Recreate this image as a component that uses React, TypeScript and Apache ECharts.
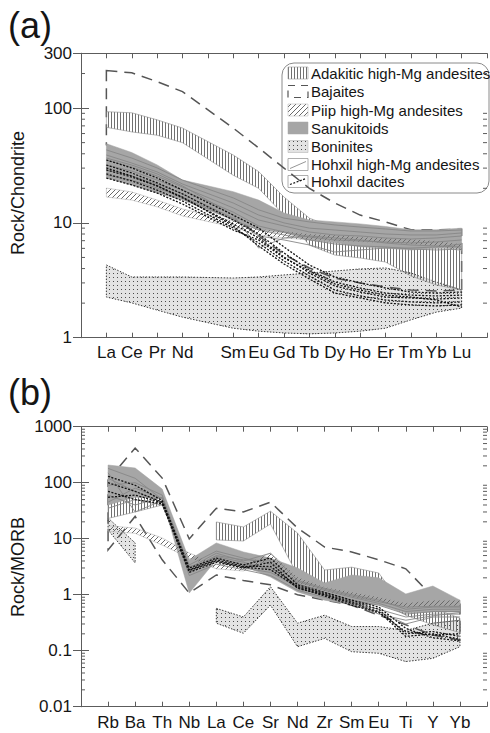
import React, { useEffect, useRef } from 'react';
import * as echarts from 'echarts';

// ---------- (a) chondrite-normalised REE ----------
const REE_LABELS = ['La', 'Ce', 'Pr', 'Nd', 'Sm', 'Eu', 'Gd', 'Tb', 'Dy', 'Ho', 'Er', 'Tm', 'Yb', 'Lu'];
const REE_POS = [1, 2, 3, 4, 6, 7, 8, 9, 10, 11, 12, 13, 14, 15];
const A_Y_MIN = 1;
const A_Y_MAX = 300;

const A_BAJ_UP = [212, 203, 170, 139, 67, 45, 30, 20, 14.9, 11.7, 10.2, 8.7, 8.7, 8.8];
const A_BAJ_LO = [48, 38, 30, 22, 11.7, 7.7, 5.3, 4.05, 3.3, 3.0, 2.77, 2.6, 2.55, 2.6];
const A_ADK_UP = [93, 91, 79, 67, 39, 28, 16.8, 11.0, 9.0, 8.2, 7.4, 7.1, 6.8, 6.7];
const A_ADK_LO = [68, 62, 58, 50, 26, 20, 11.7, 6.4, 5.25, 4.95, 4.56, 3.45, 2.88, 2.6];
const A_SAN_UP = [49, 41, 32, 23.6, 18.7, 15.8, 12.2, 10.6, 10.2, 9.8, 9.3, 8.7, 8.7, 9.0];
const A_SAN_LO = [24.6, 21.4, 18.2, 15.8, 10.6, 8.7, 8.2, 7.1, 6.7, 6.2, 6.0, 5.8, 6.0, 6.0];
const A_PIIP_UP = [20.1, 18.6, 15.8, 13.2, 10.4, 8.85, 8.5, 8.0, 7.85, 7.54, 7.39, 7.24, 6.96, 6.55];
const A_PIIP_LO = [16.8, 15.8, 13.8, 11.5, 9.2, 7.85, 7.39, 7.1, 6.96, 6.82, 6.68, 6.55, 6.29, 5.69];
const A_BON_UP = [4.3, 3.38, 3.38, 3.38, 3.31, 3.38, 3.52, 3.66, 3.81, 3.97, 4.05, 3.66, 3.06, 2.6];
const A_BON_LO = [2.26, 2.01, 1.74, 1.51, 1.21, 1.14, 1.1, 1.08, 1.1, 1.14, 1.21, 1.43, 1.67, 1.81];

const A_HMA = [
  [43.2, 36.7, 30.1, 23.6, 16.5, 13.0, 11.0, 10.2, 9.6, 9.2, 8.85, 8.5, 8.5, 8.67],
  [39.0, 33.2, 27.8, 21.8, 14.9, 11.7, 10.0, 9.0, 8.67, 8.33, 8.0, 7.85, 7.85, 8.17],
  [35.3, 30.7, 25.6, 20.5, 13.5, 10.6, 9.4, 8.33, 7.85, 7.69, 7.39, 7.24, 7.39, 7.69],
  [31.9, 28.3, 23.6, 19.3, 12.4, 9.4, 8.33, 7.54, 7.1, 6.96, 6.82, 6.68, 6.82, 7.1],
  [28.9, 25.6, 21.8, 17.9, 11.0, 7.69, 7.1, 6.42, 5.58, 5.81, 6.04, 6.04, 6.17, 6.55],
  [36.7, 31.9, 26.7, 21.0, 11.7, 6.04, 7.39, 7.69, 7.39, 7.1, 6.68, 6.42, 6.29, 6.17],
  [26.1, 23.6, 20.1, 16.8, 10.6, 8.67, 7.85, 7.1, 6.55, 6.29, 6.17, 5.92, 5.81, 5.92],
];
const A_DAC = [
  [35.3, 30.1, 24.6, 19.3, 11.7, 9.03, 6.17, 4.3, 3.38, 3.0, 2.71, 2.5, 2.45, 2.5],
  [31.9, 27.2, 22.3, 17.9, 10.6, 8.0, 5.47, 3.89, 3.06, 2.71, 2.45, 2.35, 2.31, 2.35],
  [28.9, 25.1, 21.0, 16.5, 9.78, 7.39, 5.05, 3.66, 2.82, 2.5, 2.26, 2.22, 2.17, 2.22],
  [26.7, 23.2, 19.3, 15.5, 9.03, 6.68, 4.66, 3.45, 2.6, 2.31, 2.13, 2.05, 2.01, 2.05],
  [30.1, 25.6, 21.0, 16.8, 9.4, 6.29, 4.39, 3.25, 2.45, 2.22, 2.01, 1.93, 1.89, 1.93],
  [24.6, 21.4, 18.2, 14.6, 8.67, 7.1, 4.95, 3.81, 2.94, 2.6, 2.35, 2.26, 2.13, 1.85],
];

// ---------- (b) MORB-normalised spider diagram ----------
const MORB_LABELS = ['Rb', 'Ba', 'Th', 'Nb', 'La', 'Ce', 'Sr', 'Nd', 'Zr', 'Sm', 'Eu', 'Ti', 'Y', 'Yb'];
const MORB_POS = [1, 2, 3, 4, 5, 6, 7, 8, 9, 10, 11, 12, 13, 14];
const B_Y_MIN = 0.01;
const B_Y_MAX = 1000;

const B_BAJ_UP = [112, 416, 121, 9.9, 35, 30, 45, 15.5, 7.1, 5.8, 4.2, 2.9, 0.91, 0.71];
const B_BAJ_LO = [6.3, 25, 4.2, 1.07, 2.25, 1.8, 1.5, 1.0, 0.8, 0.65, 0.43, 0.29, 0.19, 0.155];
const B_ADK1_POS = [1, 2, 3];
const B_ADK1_UP = [80, 74, 68];
const B_ADK1_LO = [23, 30, 40];
const B_ADK2_POS = [5, 6, 7, 8, 9, 10, 11, 12, 13, 14];
const B_ADK2_UP = [19.9, 16.2, 31, 12.6, 2.76, 3.1, 2.44, 0.53, 0.58, 0.38];
const B_ADK2_LO = [9.5, 9.1, 18.3, 2.25, 1.07, 0.87, 0.8, 0.43, 0.29, 0.21];
const B_SAN_UP = [207, 183, 77, 4.2, 8.4, 5.8, 4.5, 3.0, 1.62, 2.25, 2.0, 1.03, 1.43, 0.8];
const B_SAN_LO = [40, 55, 53, 1.07, 4.2, 3.25, 2.07, 1.12, 0.8, 0.66, 0.66, 0.47, 0.49, 0.49];
const B_PIIP_UP = [17, 15.5, 10.3, 5.55, 3.53, 3.39, 5.55, 2.07, 1.37, 1.12, 0.91, 0.71, 0.8, 0.8];
const B_PIIP_LO = [13.5, 12.5, 7.7, 4.5, 2.9, 2.65, 4.16, 1.62, 1.12, 0.91, 0.74, 0.58, 0.63, 0.63];
const B_BON1_POS = [1, 2];
const B_BON1_UP = [23.4, 8.4];
const B_BON1_LO = [14.3, 3.7];
const B_BON2_POS = [5, 6, 7, 8, 9, 10, 11, 12, 13, 14];
const B_BON2_UP = [0.57, 0.4, 1.39, 0.31, 0.43, 0.27, 0.27, 0.23, 0.31, 0.35];
const B_BON2_LO = [0.31, 0.205, 0.65, 0.118, 0.166, 0.096, 0.09, 0.064, 0.073, 0.118];

const B_HMA = [
  [180, 120, 50, 3.0, 5.5, 4.0, 5.5, 1.8, 1.3, 1.0, 0.8, 0.55, 0.6, 0.6],
  [120, 70, 45, 2.5, 4.5, 3.5, 3.0, 1.5, 1.2, 0.9, 0.7, 0.5, 0.55, 0.55],
  [60, 40, 55, 3.2, 4.0, 3.0, 2.5, 1.4, 1.1, 0.8, 0.65, 0.45, 0.5, 0.5],
  [35, 50, 40, 2.8, 5.0, 4.2, 4.0, 1.6, 1.0, 0.7, 0.55, 0.4, 0.45, 0.45],
  [90, 100, 60, 2.2, 3.5, 2.8, 2.2, 1.2, 0.9, 0.65, 0.5, 0.3, 0.4, 0.4],
  [150, 30, 48, 3.4, 6.0, 4.5, 3.5, 1.7, 1.25, 0.95, 0.75, 0.6, 0.62, 0.62],
  [45, 80, 52, 2.6, 4.8, 3.8, 2.8, 1.3, 1.0, 0.75, 0.45, 0.35, 0.42, 0.48],
];
const B_DAC = [
  [100, 70, 45, 2.8, 4.2, 3.2, 3.2, 1.4, 1.05, 0.75, 0.55, 0.2, 0.22, 0.18],
  [70, 50, 42, 2.5, 3.8, 3.0, 3.8, 1.3, 1.0, 0.7, 0.5, 0.18, 0.2, 0.16],
  [130, 90, 48, 3.0, 4.5, 3.4, 4.5, 1.5, 1.1, 0.8, 0.6, 0.25, 0.17, 0.15],
  [55, 60, 44, 2.7, 4.0, 3.1, 2.8, 1.35, 0.95, 0.65, 0.48, 0.22, 0.19, 0.2],
];

const LEGEND_NAMES = [
  'Adakitic high-Mg andesites',
  'Bajaites',
  'Piip high-Mg andesites',
  'Sanukitoids',
  'Boninites',
  'Hohxil high-Mg andesites',
  'Hohxil dacites',
];

const FONT = '"Liberation Sans", Arial, Helvetica, sans-serif';
const AXIS_COLOR = '#5c5c5c';
const TEXT_COLOR = '#151515';

function makePattern(w: number, h: number, draw: (ctx: CanvasRenderingContext2D) => void) {
  const c = document.createElement('canvas');
  c.width = w;
  c.height = h;
  const ctx = c.getContext('2d') as CanvasRenderingContext2D;
  draw(ctx);
  return { image: c, repeat: 'repeat', imageWidth: w, imageHeight: h };
}

function fieldSeries(xs: number[], up: number[], lo: number[], axis: number, style: any) {
  const rows = xs.map((x, i) => [x, up[i], lo[i]]);
  return {
    type: 'custom',
    xAxisIndex: axis,
    yAxisIndex: axis,
    silent: true,
    data: rows,
    renderItem: (params: any, api: any) => {
      if (params.dataIndex !== 0) return null;
      const top = rows.map((r) => api.coord([r[0], r[1]]));
      const bot = rows.map((r) => api.coord([r[0], r[2]])).reverse();
      return { type: 'polygon', shape: { points: top.concat(bot) }, style };
    },
  };
}

function lineSeries(xs: number[], vals: number[], axis: number, lineStyle: any) {
  return {
    type: 'line',
    xAxisIndex: axis,
    yAxisIndex: axis,
    silent: true,
    symbol: 'none',
    data: xs.map((x, i) => [x, vals[i]]),
    lineStyle,
  };
}

function minorTickSeries(vals: number[], axis: number, xmax: number) {
  return {
    type: 'custom',
    xAxisIndex: axis,
    yAxisIndex: axis,
    silent: true,
    clip: false,
    z: 10,
    data: vals.map((v) => [0, v]),
    renderItem: (_p: any, api: any) => {
      const v = api.value(1);
      const a = api.coord([0, v]);
      const b = api.coord([xmax, v]);
      const st = { stroke: AXIS_COLOR, lineWidth: 1 };
      return {
        type: 'group',
        children: [
          { type: 'line', shape: { x1: a[0], y1: a[1], x2: a[0] + 4, y2: a[1] }, style: st },
          { type: 'line', shape: { x1: b[0] - 4, y1: b[1], x2: b[0], y2: b[1] }, style: st },
        ],
      };
    },
  };
}

function xAxisDef(grid: number, position: string, max: number, labels: string[] | null, pos: number[], margin: number) {
  const map: Record<number, string> = {};
  if (labels) pos.forEach((p, i) => (map[p] = labels[i]));
  return {
    type: 'value',
    gridIndex: grid,
    position,
    min: 0,
    max,
    interval: 1,
    axisLine: { show: true, lineStyle: { color: AXIS_COLOR, width: 1 } },
    axisTick: { show: true, inside: true, length: 5, lineStyle: { color: AXIS_COLOR } },
    splitLine: { show: false },
    axisLabel: labels
      ? {
          show: true,
          margin,
          fontSize: 17,
          fontFamily: FONT,
          color: TEXT_COLOR,
          formatter: (v: number) => map[Math.round(v)] || '',
        }
      : { show: false },
  };
}

function yAxisDef(grid: number, position: string, min: number, max: number, showLabel: boolean) {
  return {
    type: 'log',
    logBase: 10,
    gridIndex: grid,
    position,
    min,
    max,
    axisLine: { show: true, lineStyle: { color: AXIS_COLOR, width: 1 } },
    axisTick: { show: true, inside: true, length: 8, lineStyle: { color: AXIS_COLOR } },
    splitLine: { show: false },
    minorTick: { show: false },
    axisLabel: showLabel
      ? {
          show: true,
          margin: 9,
          fontSize: 17,
          fontFamily: FONT,
          color: TEXT_COLOR,
          formatter: (v: number) => String(+Number(v).toPrecision(6)),
        }
      : { show: false },
  };
}

export default function App() {
  const ref = useRef<HTMLDivElement>(null);

  useEffect(() => {
    const el = ref.current as HTMLDivElement;
    const chart = echarts.init(el, undefined, { renderer: 'svg' });

    const vHatch = makePattern(3, 3, (ctx) => {
      ctx.fillStyle = '#707070';
      ctx.fillRect(0, 0, 1, 3);
    });
    const dHatch = makePattern(5, 5, (ctx) => {
      ctx.fillStyle = '#6a6a6a';
      for (let i = 0; i < 5; i++) ctx.fillRect(4 - i, i, 1, 1);
    });
    const dots = makePattern(4, 4, (ctx) => {
      ctx.fillStyle = '#e3e3e3';
      ctx.fillRect(0, 0, 4, 4);
      ctx.fillStyle = '#4a4a4a';
      ctx.fillRect(1, 1, 1, 1);
    });

    const adkStyle = { fill: vHatch, stroke: '#8a8a8a', lineWidth: 0.6 };
    const piipStyle = { fill: dHatch, stroke: '#a8a8a8', lineWidth: 0.5 };
    const sanStyle = { fill: '#a6a6a6', stroke: '#a0a0a0', lineWidth: 0.5 };
    const bonStyle = { fill: dots, stroke: '#3a3a3a', lineWidth: 1, lineDash: [1.5, 1.5] };
    const bajStyle = { fill: 'none', stroke: '#555555', lineWidth: 1.5, lineDash: [11, 7] };
    const hmaLine = { color: '#878787', width: 0.9, type: 'solid' };
    const dacLine = { color: '#111111', width: 1.3, type: [2, 1.5] };

    const minorA: number[] = [];
    for (const d of [1, 10, 100]) for (let m = 2; m <= 9; m++) if (d * m < A_Y_MAX) minorA.push(d * m);
    const minorB: number[] = [];
    for (const d of [0.01, 0.1, 1, 10, 100]) for (let m = 2; m <= 9; m++) minorB.push(+(d * m).toPrecision(3));

    const series: any[] = [
      // panel (a)
      fieldSeries(REE_POS, A_BON_UP, A_BON_LO, 0, bonStyle),
      fieldSeries(REE_POS, A_BAJ_UP, A_BAJ_LO, 0, bajStyle),
      fieldSeries(REE_POS, A_ADK_UP, A_ADK_LO, 0, adkStyle),
      fieldSeries(REE_POS, A_SAN_UP, A_SAN_LO, 0, sanStyle),
      fieldSeries(REE_POS, A_PIIP_UP, A_PIIP_LO, 0, piipStyle),
      ...A_HMA.map((v) => lineSeries(REE_POS, v, 0, hmaLine)),
      ...A_DAC.map((v) => lineSeries(REE_POS, v, 0, dacLine)),
      minorTickSeries(minorA, 0, 16),
      // panel (b)
      fieldSeries(B_BON1_POS, B_BON1_UP, B_BON1_LO, 2, bonStyle),
      fieldSeries(B_BON2_POS, B_BON2_UP, B_BON2_LO, 2, bonStyle),
      fieldSeries(MORB_POS, B_BAJ_UP, B_BAJ_LO, 2, bajStyle),
      fieldSeries(B_ADK1_POS, B_ADK1_UP, B_ADK1_LO, 2, adkStyle),
      fieldSeries(B_ADK2_POS, B_ADK2_UP, B_ADK2_LO, 2, adkStyle),
      fieldSeries(MORB_POS, B_SAN_UP, B_SAN_LO, 2, sanStyle),
      fieldSeries(MORB_POS, B_PIIP_UP, B_PIIP_LO, 2, piipStyle),
      ...B_HMA.map((v) => lineSeries(MORB_POS, v, 2, hmaLine)),
      ...B_DAC.map((v) => lineSeries(MORB_POS, v, 2, dacLine)),
      minorTickSeries(minorB, 2, 15),
    ];

    // legend drawn as graphic elements
    const LX = 282;
    const LY = 63;
    const rowY = [73, 91.5, 110, 128, 146.5, 164.5, 181.5];
    const iconX = 288;
    const iconW = 20;
    const iconH = 12;
    const legendChildren: any[] = [
      {
        type: 'rect',
        shape: { x: LX, y: LY, width: 207, height: 130, r: 12 },
        style: { fill: '#ffffff', stroke: '#8a8a8a', lineWidth: 1 },
      },
    ];
    const iconStyles = [
      { fill: vHatch, stroke: '#9a9a9a', lineWidth: 0.6 },
      { fill: 'none', stroke: '#555', lineWidth: 1.2, lineDash: [7, 6] },
      { fill: dHatch, stroke: '#b0b0b0', lineWidth: 0.5 },
      { fill: '#a6a6a6', stroke: '#a6a6a6', lineWidth: 0.5 },
      { fill: dots, stroke: '#aaa', lineWidth: 0.5 },
      { fill: '#fff', stroke: '#9a9a9a', lineWidth: 0.8 },
      { fill: '#fff', stroke: '#9a9a9a', lineWidth: 0.8 },
    ];
    LEGEND_NAMES.forEach((name, i) => {
      const cy = rowY[i];
      legendChildren.push({
        type: 'rect',
        shape: { x: iconX, y: cy - iconH / 2, width: iconW, height: iconH },
        style: iconStyles[i],
      });
      if (i === 5) {
        legendChildren.push({
          type: 'line',
          shape: { x1: iconX + 2, y1: cy + 4, x2: iconX + iconW - 2, y2: cy - 3 },
          style: { stroke: '#8a8a8a', lineWidth: 0.9 },
        });
      }
      if (i === 6) {
        legendChildren.push({
          type: 'line',
          shape: { x1: iconX + 2, y1: cy + 3, x2: iconX + iconW - 2, y2: cy - 3 },
          style: { stroke: '#111', lineWidth: 1.2, lineDash: [2, 1.5] },
        });
      }
      legendChildren.push({
        type: 'text',
        x: 311,
        y: cy,
        style: {
          text: name,
          fontSize: 15,
          fontFamily: FONT,
          fill: TEXT_COLOR,
          textAlign: 'left',
          textVerticalAlign: 'middle',
        },
      });
    });

    const option: any = {
      animation: false,
      backgroundColor: '#ffffff',
      grid: [
        { left: 81, top: 53.3, width: 412.8, height: 284.4 },
        { left: 81, top: 426.7, width: 412.5, height: 280 },
      ],
      xAxis: [
        xAxisDef(0, 'bottom', 16, REE_LABELS, REE_POS, 6),
        xAxisDef(0, 'top', 16, null, REE_POS, 6),
        xAxisDef(1, 'bottom', 15, MORB_LABELS, MORB_POS, 7),
        xAxisDef(1, 'top', 15, null, MORB_POS, 7),
      ],
      yAxis: [
        yAxisDef(0, 'left', A_Y_MIN, A_Y_MAX, true),
        yAxisDef(0, 'right', A_Y_MIN, A_Y_MAX, false),
        yAxisDef(1, 'left', B_Y_MIN, B_Y_MAX, true),
        yAxisDef(1, 'right', B_Y_MIN, B_Y_MAX, false),
      ],
      series,
      graphic: [
        {
          type: 'text',
          x: 8,
          y: 25,
          z: 100,
          style: { text: '(a)', fontSize: 36, fontFamily: FONT, fill: TEXT_COLOR, textVerticalAlign: 'middle' },
        },
        {
          type: 'text',
          x: 8,
          y: 392,
          z: 100,
          style: { text: '(b)', fontSize: 36, fontFamily: FONT, fill: TEXT_COLOR, textVerticalAlign: 'middle' },
        },
        {
          type: 'text',
          x: 18,
          y: 193,
          rotation: Math.PI / 2,
          z: 100,
          style: {
            text: 'Rock/Chondrite',
            fontSize: 18,
            fontFamily: FONT,
            fill: TEXT_COLOR,
            textAlign: 'center',
            textVerticalAlign: 'middle',
          },
        },
        {
          type: 'text',
          x: 18,
          y: 567,
          rotation: Math.PI / 2,
          z: 100,
          style: {
            text: 'Rock/MORB',
            fontSize: 18,
            fontFamily: FONT,
            fill: TEXT_COLOR,
            textAlign: 'center',
            textVerticalAlign: 'middle',
          },
        },
        { type: 'group', z: 100, children: legendChildren },
      ],
    };

    chart.setOption(option);
    return () => chart.dispose();
  }, []);

  return (
    <div
      ref={ref}
      style={{ position: 'fixed', left: 0, top: 0, width: 490, height: 733, background: '#ffffff' }}
    />
  );
}
